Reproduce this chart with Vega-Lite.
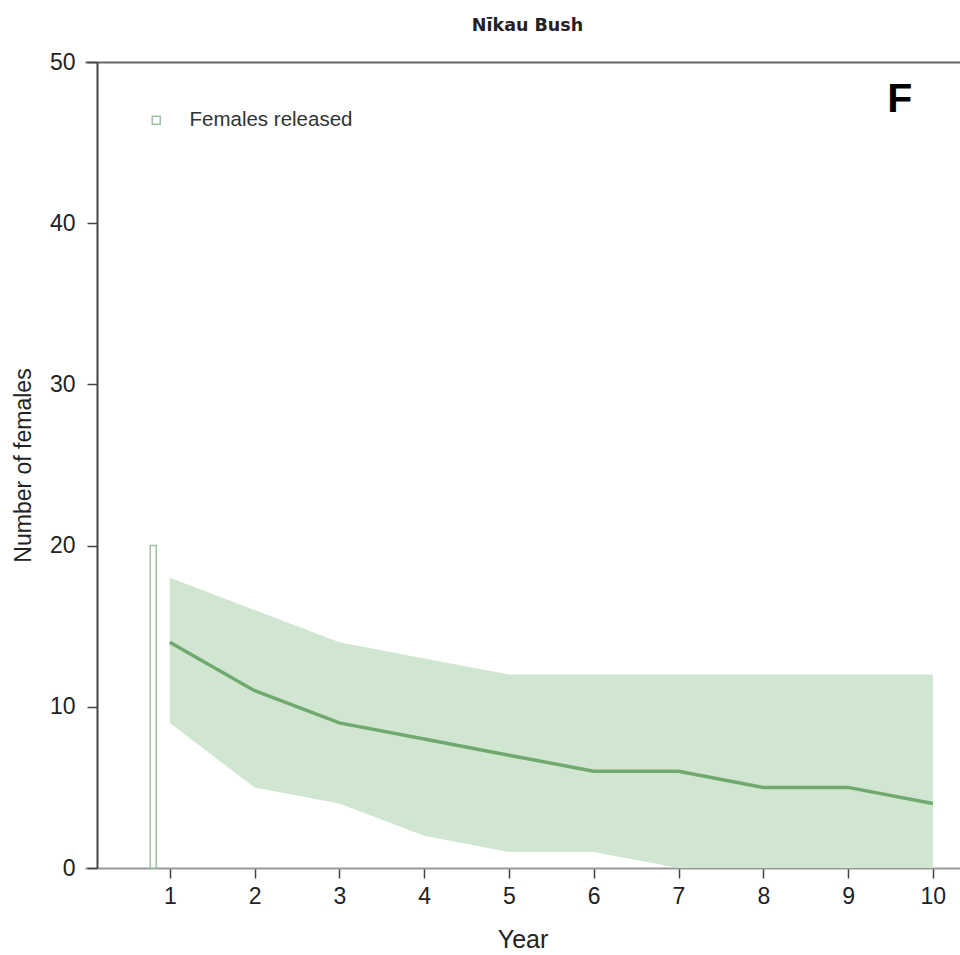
{
  "$schema": "https://vega.github.io/schema/vega-lite/v6.json",
  "autosize": {"type": "none"},
  "padding": {"left": 85, "top": 62, "right": 0, "bottom": 87},
  "width": 875,
  "height": 806,
  "background": "white",
  "title": {
    "text": "Nīkau Bush",
    "font": "DejaVu Sans",
    "fontSize": 17.5,
    "fontWeight": "bold",
    "color": "#222222",
    "anchor": "middle",
    "frame": "group",
    "dx": 5,
    "offset": 17
  },
  "datasets": {
    "sim": [
      {"year": 1, "median": 14, "lower": 9, "upper": 18},
      {"year": 2, "median": 11, "lower": 5, "upper": 16},
      {"year": 3, "median": 9, "lower": 4, "upper": 14},
      {"year": 4, "median": 8, "lower": 2, "upper": 13},
      {"year": 5, "median": 7, "lower": 1, "upper": 12},
      {"year": 6, "median": 6, "lower": 1, "upper": 12},
      {"year": 7, "median": 6, "lower": 0, "upper": 12},
      {"year": 8, "median": 5, "lower": 0, "upper": 12},
      {"year": 9, "median": 5, "lower": 0, "upper": 12},
      {"year": 10, "median": 4, "lower": 0, "upper": 12}
    ],
    "released": [
      {"series": "Females released", "x0": 0.77, "x1": 0.84, "n": 20, "base": 0}
    ],
    "panel": [
      {"label": "F", "x": 9.61, "y": 46.9}
    ]
  },
  "layer": [
    {
      "data": {"name": "sim"},
      "mark": {"type": "area", "color": "#d0e6d0", "opacity": 1},
      "encoding": {
        "x": {
          "field": "year", "type": "quantitative",
          "scale": {"domain": [0, 10.32], "nice": false, "zero": false, "padding": 0},
          "axis": {
            "title": "Year",
            "values": [1, 2, 3, 4, 5, 6, 7, 8, 9, 10],
            "grid": false,
            "domainColor": "#999999",
            "domainWidth": 2,
            "tickColor": "#444444",
            "tickWidth": 1.5,
            "tickSize": 10,
            "labelFont": "Liberation Sans",
            "labelFontSize": 23,
            "labelColor": "#222222",
            "labelPadding": 7,
            "titleFont": "Liberation Sans",
            "titleFontSize": 25,
            "titleFontWeight": "normal",
            "titleColor": "#222222",
            "titlePadding": 19
          }
        },
        "y": {
          "field": "lower", "type": "quantitative",
          "scale": {"domain": [0, 50], "nice": false, "padding": 0},
          "title": "Number of females",
          "axis": {
            "values": [0, 10, 20, 30, 40, 50],
            "offset": -12,
            "grid": false,
            "domainColor": "#444444",
            "domainWidth": 2,
            "tickColor": "#444444",
            "tickWidth": 1.5,
            "tickSize": 10,
            "labelFont": "Liberation Sans",
            "labelFontSize": 23,
            "labelColor": "#222222",
            "labelPadding": 12,
            "titleFont": "Liberation Sans",
            "titleFontSize": 23,
            "titleFontWeight": "normal",
            "titleColor": "#222222",
            "titlePadding": 14
          }
        },
        "y2": {"field": "upper"}
      }
    },
    {
      "data": {"name": "sim"},
      "mark": {"type": "line", "color": "#6fa96f", "strokeWidth": 3.5},
      "encoding": {
        "x": {
          "field": "year", "type": "quantitative",
          "axis": {
            "orient": "top",
            "labels": false,
            "ticks": false,
            "title": null,
            "grid": false,
            "domainColor": "#666666",
            "domainWidth": 2
          }
        },
        "y": {"field": "median", "type": "quantitative", "title": "Number of females"}
      }
    },
    {
      "data": {"name": "released"},
      "mark": {"type": "bar", "fill": "white", "strokeWidth": 1.5},
      "encoding": {
        "x": {"field": "x0", "type": "quantitative", "axis": null},
        "x2": {"field": "x1"},
        "y": {"field": "n", "type": "quantitative", "title": "Number of females"},
        "y2": {"field": "base"},
        "stroke": {
          "field": "series", "type": "nominal",
          "scale": {"range": ["#9fc2a3"]},
          "legend": {
            "title": null,
            "orient": "none",
            "legendX": 61,
            "legendY": 48,
            "padding": 0,
            "symbolType": "square",
            "symbolSize": 64,
            "symbolFillColor": "white",
            "symbolStrokeColor": "#a3b3a6",
            "symbolStrokeWidth": 1.5,
            "labelOffset": 23,
            "labelLimit": 400,
            "labelFont": "Liberation Sans",
            "labelFontSize": 20.5,
            "labelColor": "#333333"
          }
        }
      }
    },
    {
      "data": {"name": "panel"},
      "mark": {"type": "text", "font": "Liberation Sans", "fontSize": 41, "fontWeight": "bold", "color": "#000000", "align": "center", "baseline": "alphabetic"},
      "encoding": {
        "x": {"field": "x", "type": "quantitative", "axis": null},
        "y": {"field": "y", "type": "quantitative", "title": "Number of females"},
        "text": {"field": "label"}
      }
    }
  ],
  "resolve": {"axis": {"x": "independent"}},
  "config": {"view": {"stroke": null}}
}
